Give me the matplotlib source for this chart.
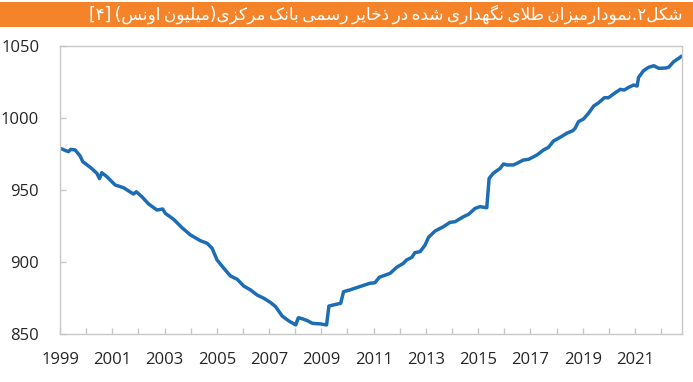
import numpy as np
import matplotlib
matplotlib.use("Agg")
import matplotlib.pyplot as plt
from matplotlib.patches import Rectangle
from matplotlib.ticker import MultipleLocator, FixedLocator

# Gold held in official central bank reserves (million ounces)
years = [1999.00, 1999.32, 1999.41, 1999.58, 1999.77, 1999.87, 2000.21, 2000.41, 2000.51, 2000.60,
         2000.79, 2001.11, 2001.43, 2001.81, 2001.92, 2002.13, 2002.39, 2002.71, 2002.93, 2003.03,
         2003.35, 2003.67, 2003.99, 2004.37, 2004.63, 2004.82, 2005.01, 2005.27, 2005.52, 2005.78,
         2006.03, 2006.29, 2006.54, 2006.80, 2007.06, 2007.25, 2007.50, 2007.76, 2008.02, 2008.12,
         2008.27, 2008.46, 2008.66, 2008.97, 2009.20, 2009.29, 2009.61, 2009.74, 2009.85, 2010.09,
         2010.47, 2010.85, 2011.05, 2011.22, 2011.63, 2011.88, 2012.14, 2012.26, 2012.46, 2012.58,
         2012.78, 2012.97, 2013.10, 2013.35, 2013.67, 2013.92, 2014.12, 2014.44, 2014.63, 2014.89,
         2015.07, 2015.33, 2015.42, 2015.58, 2015.84, 2015.97, 2016.10, 2016.35, 2016.48, 2016.73,
         2016.93, 2017.25, 2017.50, 2017.69, 2017.88, 2018.14, 2018.39, 2018.62, 2018.71, 2018.84,
         2019.03, 2019.22, 2019.42, 2019.61, 2019.83, 2019.99, 2020.18, 2020.44, 2020.59, 2020.76,
         2020.95, 2021.08, 2021.14, 2021.33, 2021.52, 2021.72, 2021.91, 2022.16, 2022.29, 2022.48,
         2022.67, 2022.76]
gold = [979.0, 976.6, 978.2, 977.8, 973.6, 969.7, 965.0, 961.6, 957.9, 962.0,
        959.3, 953.5, 951.6, 947.2, 948.8, 945.4, 940.3, 936.1, 936.8, 933.8,
        929.6, 923.8, 918.8, 914.8, 913.0, 909.5, 901.4, 895.6, 890.3, 888.0,
        883.3, 880.6, 877.1, 874.8, 871.8, 869.0, 862.5, 859.0, 856.3, 861.3,
        860.6, 859.3, 857.4, 857.0, 856.3, 869.4, 870.8, 871.3, 879.4, 880.6,
        882.9, 885.2, 885.6, 889.4, 892.1, 896.3, 899.1, 901.4, 903.2, 906.5,
        907.2, 911.8, 917.1, 921.5, 924.5, 927.5, 928.0, 931.5, 933.1, 937.3,
        938.4, 937.7, 958.1, 961.6, 965.0, 968.1, 967.4, 967.4, 968.5, 970.8,
        971.3, 974.3, 977.8, 979.6, 984.0, 986.6, 989.4, 991.2, 992.8, 997.5,
        999.3, 1003.2, 1008.3, 1010.6, 1014.1, 1014.1, 1016.7, 1019.9, 1019.4, 1021.3,
        1022.9, 1022.2, 1028.2, 1032.9, 1035.2, 1036.3, 1034.5, 1034.7, 1035.2, 1039.1,
        1041.4, 1042.6]
yticks = [850, 900, 950, 1000, 1050]
xlabel_years = list(range(1999, 2022, 2))

title = "شکل۲.نمودارمیزان طلای نگهداری شده در ذخایر رسمی بانک مرکزی(میلیون اونس) [۴]"

# matplotlib has no arabic shaping, so pick presentation forms by hand
FORMS = {
    'ا': ('\uFE8D', '\uFE8E', None, None),
    'ب': ('\uFE8F', '\uFE90', '\uFE91', '\uFE92'),
    'خ': ('\uFEA5', '\uFEA6', '\uFEA7', '\uFEA8'),
    'د': ('\uFEA9', '\uFEAA', None, None),
    'ذ': ('\uFEAB', '\uFEAC', None, None),
    'ر': ('\uFEAD', '\uFEAE', None, None),
    'ز': ('\uFEAF', '\uFEB0', None, None),
    'س': ('\uFEB1', '\uFEB2', '\uFEB3', '\uFEB4'),
    'ش': ('\uFEB5', '\uFEB6', '\uFEB7', '\uFEB8'),
    'ط': ('\uFEC1', '\uFEC2', '\uFEC3', '\uFEC4'),
    'ل': ('\uFEDD', '\uFEDE', '\uFEDF', '\uFEE0'),
    'م': ('\uFEE1', '\uFEE2', '\uFEE3', '\uFEE4'),
    'ن': ('\uFEE5', '\uFEE6', '\uFEE7', '\uFEE8'),
    'ه': ('\uFEE9', '\uFEEA', '\uFEEB', '\uFEEC'),
    'و': ('\uFEED', '\uFEEE', None, None),
    'ی': ('\uFBFC', '\uFBFD', '\uFBFE', '\uFBFF'),
    'ک': ('\uFB8E', '\uFB8F', '\uFB90', '\uFB91'),
    'گ': ('\uFB92', '\uFB93', '\uFB94', '\uFB95'),
    'لا': ('\uFEFB', '\uFEFC', None, None),
}


def shape_rtl(s):
    tokens = []
    i = 0
    while i < len(s):
        if s[i] == 'ل' and i + 1 < len(s) and s[i + 1] == 'ا':
            tokens.append('لا')
            i += 2
        else:
            tokens.append(s[i])
            i += 1
    out = []
    for k, t in enumerate(tokens):
        if t not in FORMS:
            out.append(t)
            continue
        prev = k > 0 and tokens[k - 1] in FORMS and FORMS[tokens[k - 1]][2] is not None
        nxt = FORMS[t][2] is not None and k + 1 < len(tokens) and tokens[k + 1] in FORMS
        iso, fin, ini, med = FORMS[t]
        if prev and nxt:
            out.append(med)
        elif nxt:
            out.append(ini)
        elif prev:
            out.append(fin)
        else:
            out.append(iso)
    mirror = {'(': ')', ')': '(', '[': ']', ']': '['}
    # narrow word gaps like the original typeface
    return ''.join(mirror.get(c, c) for c in reversed(out)).replace(' ', '\u2009')


plt.rcParams['font.family'] = ['Open Sans', 'DejaVu Sans']

fig = plt.figure(figsize=(6.93, 3.82), dpi=100)
ax = fig.add_axes([60 / 693, 48 / 382, 622 / 693, 288 / 382])

ax.plot(years, gold, color='#1c6db3', linewidth=2.5, solid_joinstyle='round')

ax.set_xlim(1999, 2022.8)
ax.set_ylim(850, 1050)
ax.set_yticks(yticks)
ax.xaxis.set_major_locator(FixedLocator(xlabel_years))
ax.xaxis.set_minor_locator(MultipleLocator(1))

for sp in ax.spines.values():
    sp.set_color('#c8c8c8')
    sp.set_linewidth(1.0)
ax.tick_params(axis='both', which='both', direction='in', color='#c8c8c8', width=1.0,
               labelsize=12, labelcolor='#262626')
ax.tick_params(axis='x', which='major', length=4, pad=13)
ax.tick_params(axis='x', which='minor', length=4)
ax.tick_params(axis='y', which='major', length=4, pad=15)

# orange title band
fig.patches.append(Rectangle((0, 355 / 382), 1, 25 / 382, transform=fig.transFigure,
                             facecolor='#f5832a', edgecolor='none', zorder=0))
t = fig.text(386 / 693, 367.5 / 382, shape_rtl(title), family='DejaVu Sans', fontsize=12,
             color='white', ha='center', va='center')
fig.canvas.draw()
w = t.get_window_extent().width
t.set_fontsize(12 * 591 / w)

fig.savefig('out.png', dpi=100)
